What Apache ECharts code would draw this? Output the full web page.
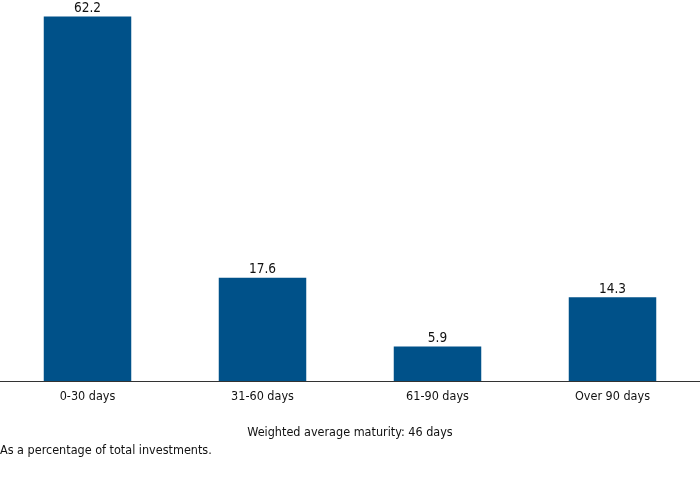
<!DOCTYPE html>
<html><head><meta charset="utf-8">
<script src="https://cdn.jsdelivr.net/npm/echarts@6/dist/echarts.min.js"></script>
<style>html,body{margin:0;padding:0;background:#fff}#c{width:700px;height:488px}</style>
</head><body><div id="c"></div>
<script>
const categories = ['0-30 days', '31-60 days', '61-90 days', 'Over 90 days'];
const values = [62.2, 17.6, 5.9, 14.3];
const subtitle = 'Weighted average maturity: 46 days';
const footnote = 'As a percentage of total investments.';
const FONT = '"DejaVu Sans Condensed", "Liberation Sans Narrow", sans-serif';
const chart = echarts.init(document.getElementById('c'));
chart.setOption({
  animation: false,
  title: [
    { text: subtitle, left: 'center', top: 426, padding: 0, textStyle: { fontFamily: FONT, fontSize: 12.5, fontWeight: 'normal', color: '#111' } },
    { text: footnote, left: 0, top: 444, padding: 0, textStyle: { fontFamily: FONT, fontSize: 12.5, fontWeight: 'normal', color: '#111' } }
  ],
  grid: { left: 0, right: 0, top: 0, bottom: 107, containLabel: false },
  xAxis: {
    type: 'category', data: categories,
    axisLine: { lineStyle: { color: '#333', width: 1 } },
    axisTick: { show: false },
    axisLabel: { fontFamily: FONT, fontSize: 12.5, color: '#111', margin: 9 }
  },
  yAxis: { type: 'value', min: 0, max: 65, show: false, splitLine: { show: false } },
  series: [{
    type: 'bar', data: values, barWidth: '50%',
    itemStyle: { color: '#005189' },
    label: { show: true, position: 'top', distance: 1, fontFamily: FONT, fontSize: 13.5, color: '#111', formatter: p => p.value.toFixed(1) }
  }]
});
</script></body></html>
